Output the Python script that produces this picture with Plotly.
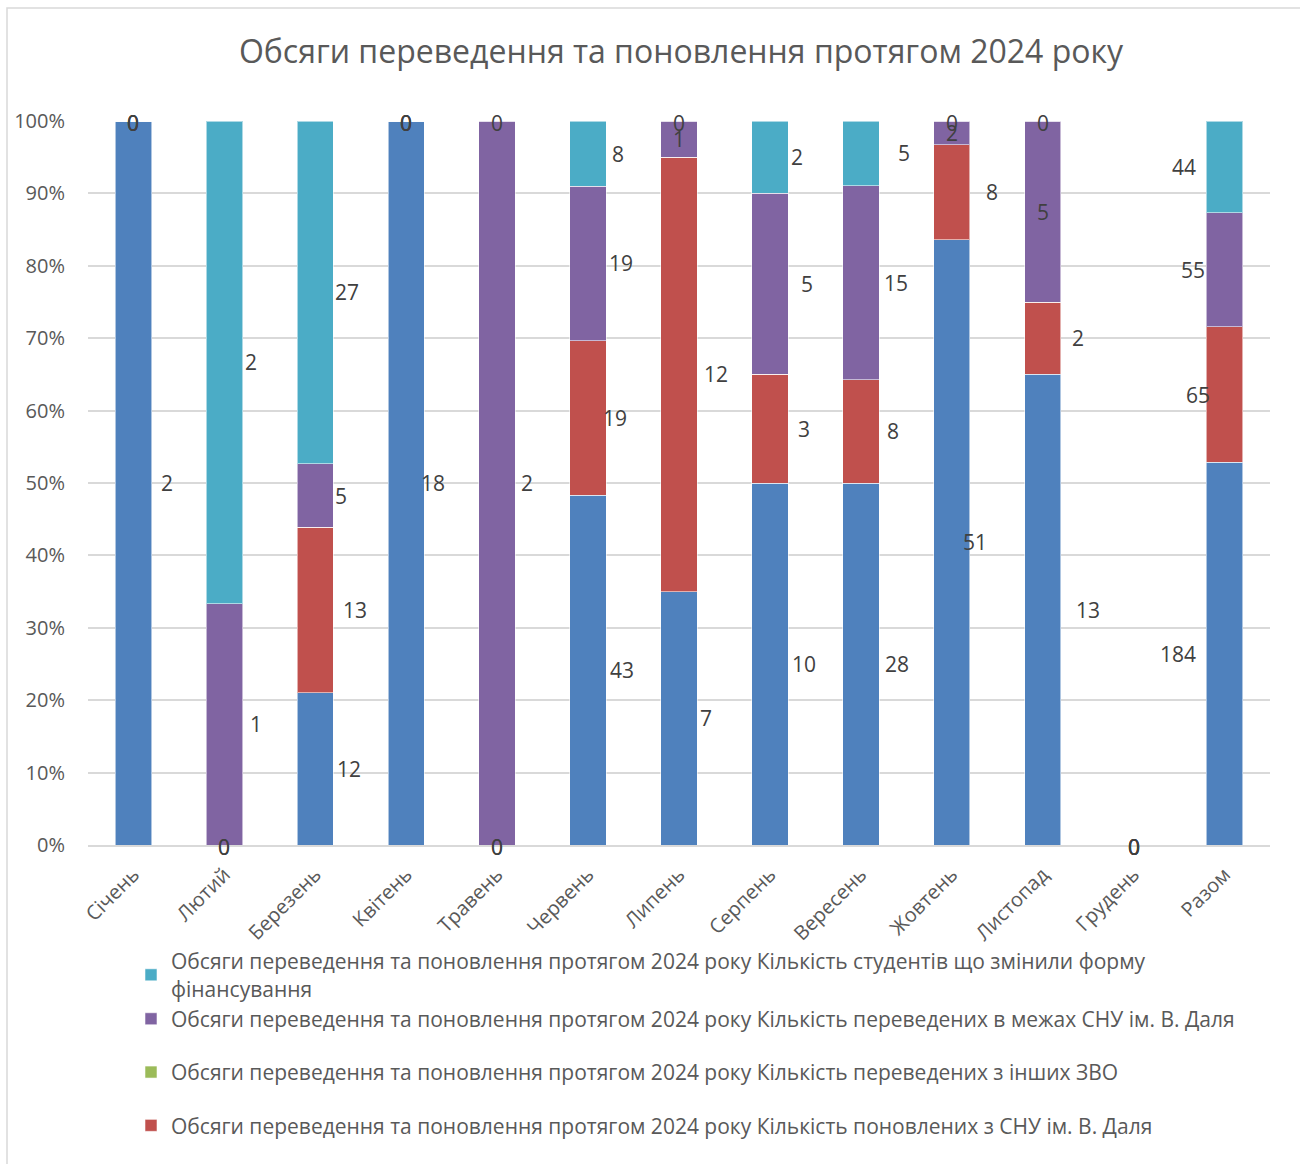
import plotly.graph_objects as go

months = ["Січень", "Лютий", "Березень", "Квітень", "Травень", "Червень", "Липень",
          "Серпень", "Вересень", "Жовтень", "Листопад", "Грудень", "Разом"]

prefix = "Обсяги переведення та поновлення протягом 2024 року "
name_blue = prefix + "Кількість відрахованих"
name_red = prefix + "Кількість поновлених з СНУ ім. В. Даля"
name_green = prefix + "Кількість переведених з інших ЗВО"
name_purple = prefix + "Кількість переведених в межах СНУ ім. В. Даля"
name_cyan = prefix + "Кількість студентів що змінили форму<br>фінансування"

blue_vals = [2, 0, 12, 18, 0, 43, 7, 10, 28, 51, 13, 0, 184]
red_vals = [0, 0, 13, 0, 0, 19, 12, 3, 8, 8, 2, 0, 65]
green_vals = [0, 0, 0, 0, 0, 0, 0, 0, 0, 0, 0, 0, 0]
purple_vals = [0, 1, 5, 0, 2, 19, 1, 5, 15, 2, 5, 0, 55]
cyan_vals = [0, 2, 27, 0, 0, 8, 0, 2, 5, 0, 0, 0, 44]

# ---- styling ----
C_BLUE, C_RED, C_GREEN, C_PURPLE, C_CYAN = "#4F81BD", "#C0504D", "#9BBB59", "#8064A2", "#4BACC6"
FONT = "Open Sans"
GRAY = "#595959"
LBL = "#404040"

# horizontal pixel shift of the value labels (style only)
shift_blue = [34, 0, 34, 27, 0, 34, 27, 34, 36, 23, 45, 0, -47]
shift_red = [0, 0, 40, 0, 0, 27, 37, 34, 32, 40, 35, 0, -27]
shift_purple = [0, 32, 26, 0, 30, 33, 0, 37, 35, 0, 0, 0, -32]
shift_cyan = [0, 27, 32, 0, 0, 30, 0, 27, 43, 0, 0, 0, -41]

# (name, values, colour, label shifts, labelled, in legend, legend group, legend rank)
series = [
    (name_blue, blue_vals, C_BLUE, shift_blue, True, False, "g0", 5),
    (name_red, red_vals, C_RED, shift_red, True, True, "g1", 4),
    (name_green, green_vals, C_GREEN, None, False, True, "g2", 3),
    (name_purple, purple_vals, C_PURPLE, shift_purple, True, True, "g3", 2),
    (name_cyan, cyan_vals, C_CYAN, shift_cyan, True, True, "g3", 1),
]

fig = go.Figure()
for name, vals, col, _, _, show, grp, rank in series:
    fig.add_trace(go.Bar(
        x=months, y=vals, name=name, marker_color=col,
        marker_line=dict(color="rgba(255,255,255,0.55)", width=1),
        showlegend=show, legendgroup=grp, legendrank=rank,
    ))

totals = [sum(s[1][i] for s in series) for i in range(len(months))]
cum = [0.0] * len(months)
annotations = []
for name, vals, col, shifts, labelled, _, _, _ in series:
    for i, v in enumerate(vals):
        tot = totals[i]
        pct = 100.0 * v / tot if tot else 0.0
        base = cum[i]
        if labelled:
            if v == 0:
                yy, xs = base, 0
            else:
                yy, xs = base + pct / 2, shifts[i]
            annotations.append(dict(
                x=months[i], y=yy, xref="x", yref="y", text=str(v),
                showarrow=False, xshift=xs, yshift=0 if v else -2,
                font=dict(family=FONT, size=21, color=LBL),
            ))
        cum[i] = base + pct

fig.update_layout(
    annotations=annotations,
    barmode="stack", barnorm="percent", bargap=0.6,
    width=1300, height=1164,
    margin=dict(l=88, r=30, t=121, b=319),
    paper_bgcolor="white", plot_bgcolor="white",
    font=dict(family=FONT, color=GRAY),
    title=dict(text="Обсяги переведення та поновлення протягом 2024 року",
               x=681 / 1300, xanchor="center", y=1 - 52 / 1164, yanchor="middle",
               font=dict(family=FONT, size=32, color=GRAY)),
    xaxis=dict(range=[-0.5, 12.5], tickangle=-45, showgrid=False,
               showline=True, linecolor="#D9D9D9", linewidth=2, ticks="",
               ticklabelstandoff=8,
               tickfont=dict(family=FONT, size=20, color=GRAY)),
    yaxis=dict(range=[0, 100], tickvals=list(range(0, 101, 10)),
               ticktext=[f"{t}%" for t in range(0, 101, 10)],
               showgrid=True, gridcolor="#D9D9D9", gridwidth=2,
               zeroline=False, ticks="", ticklen=0, ticklabelstandoff=22,
               tickfont=dict(family=FONT, size=20, color=GRAY)),
    legend=dict(x=(131 - 88) / 1182, xanchor="left", y=(845 - 941) / 724, yanchor="top",
                traceorder="grouped", tracegroupgap=23, itemwidth=30,
                font=dict(family=FONT, size=21, color=GRAY), bgcolor="rgba(0,0,0,0)"),
    shapes=[dict(type="rect", xref="paper", yref="paper",
                 x0=(7 - 88) / 1182, x1=(1320 - 88) / 1182,
                 y0=(845 - 1200) / 724, y1=(845 - 8) / 724,
                 line=dict(color="#D9D9D9", width=1.5), fillcolor="rgba(0,0,0,0)", layer="below")],
)

fig.write_html("out.html", config={"displayModeBar": False},
               post_script="document.body.style.margin='0';")
